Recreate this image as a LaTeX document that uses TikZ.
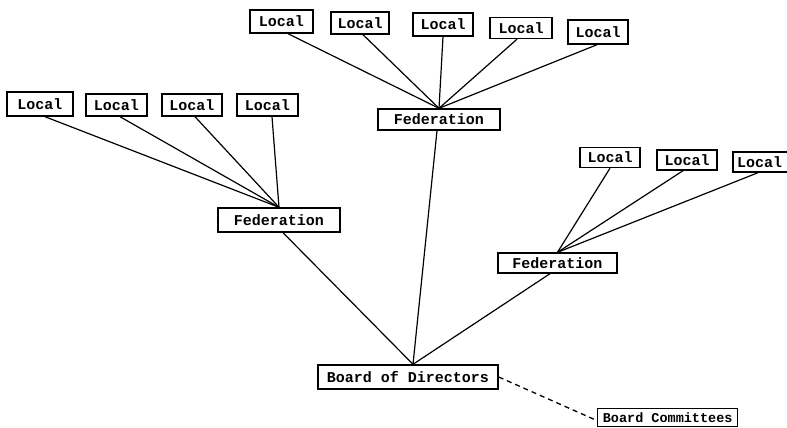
\documentclass[tikz,border=0pt]{standalone}
\usepackage{fontspec}
\setmonofont{Liberation Mono}
\begin{document}
\begin{tikzpicture}[x=1pt,y=-1pt,
  box/.style={draw,line width=1.4pt,inner sep=0pt,font=\ttfamily\bfseries\fontsize{15}{15}\selectfont},
  wire/.style={line width=1.2pt},
  dwire/.style={line width=1.3pt,dash pattern=on 5pt off 4pt}]
\useasboundingbox (0,0) rectangle (787,428);
\clip (0,0) rectangle (787,428);
% left group
\node[box,minimum width=66pt,minimum height=24pt] (L1) at (40,104) {Local};
\node[box,minimum width=61pt,minimum height=22pt] (L2) at (116.5,105) {Local};
\node[box,minimum width=60pt,minimum height=22pt] (L3) at (192,105) {Local};
\node[box,minimum width=61pt,minimum height=22pt] (L4) at (267.5,105) {Local};
\node[box,minimum width=122pt,minimum height=24pt] (FL) at (279,220) {Federation};
% centre group
\node[box,minimum width=63pt,minimum height=23pt] (C1) at (281.5,21.5) {Local};
\node[box,minimum width=58pt,minimum height=22pt] (C2) at (360,23) {Local};
\node[box,minimum width=60pt,minimum height=23pt] (C3) at (443,24.5) {Local};
\node[box,minimum width=62pt,minimum height=21pt] (C4) at (521,28) {Local};
\node[box,minimum width=60pt,minimum height=24pt] (C5) at (598,32) {Local};
\node[box,minimum width=122pt,minimum height=21pt] (FC) at (439,119.5) {Federation};
% right group
\node[box,minimum width=60pt,minimum height=20pt] (R1) at (610,157.5) {Local};
\node[box,minimum width=60pt,minimum height=20pt] (R2) at (687,160) {Local};
\node[box,minimum width=60pt,minimum height=20pt,text width=52pt,align=left] (R3) at (763,162) {Local};
\node[box,minimum width=119pt,minimum height=20pt] (FR) at (557.5,263) {Federation};
% board
\node[box,minimum width=180pt,minimum height=24pt] (BD) at (408,377) {Board of Directors};
\node[box,minimum width=140pt,minimum height=18pt,font=\ttfamily\bfseries\fontsize{13.5}{13.5}\selectfont,anchor=south west] (BC) at (597,427.3) {Board Committees};
\coordinate (BDt) at ([xshift=5pt]BD.north);
% connectors
\draw[wire] ([xshift=5pt]L1.south) -- (FL.north);
\draw[wire] ([xshift=3.5pt]L2.south) -- (FL.north);
\draw[wire] ([xshift=3pt]L3.south) -- (FL.north);
\draw[wire] ([xshift=4.5pt]L4.south) -- (FL.north);
\draw[wire] ([xshift=6.5pt]C1.south) -- (FC.north);
\draw[wire] ([xshift=3pt]C2.south) -- (FC.north);
\draw[wire] (C3.south) -- (FC.north);
\draw[wire] ([xshift=-4pt]C4.south) -- (FC.north);
\draw[wire] ([xshift=-1pt]C5.south) -- (FC.north);
\draw[wire] (R1.south) -- (FR.north);
\draw[wire] ([xshift=-4pt]R2.south) -- (FR.north);
\draw[wire] ([xshift=-5pt]R3.south) -- (FR.north);
\draw[wire] ([xshift=4pt]FL.south) -- (BDt);
\draw[wire] ([xshift=-2pt]FC.south) -- (BDt);
\draw[wire] ([xshift=-7.5pt]FR.south) -- (BDt);
\draw[dwire] (BD.east) -- ([yshift=-3pt]BC.west);
\end{tikzpicture}
\end{document}
